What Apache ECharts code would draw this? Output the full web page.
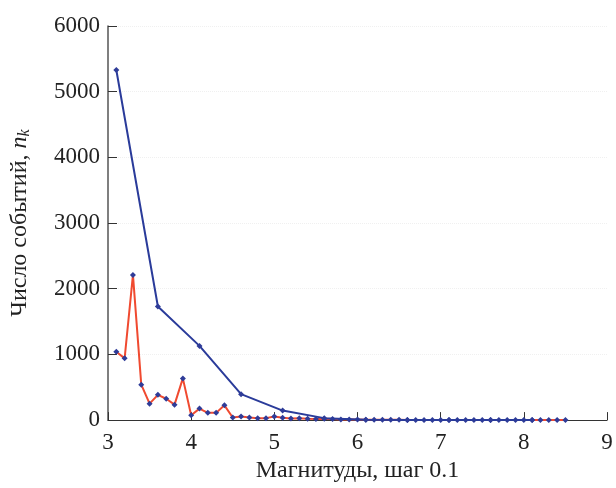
<!DOCTYPE html>
<html><head><meta charset="utf-8">
<script src="https://cdn.jsdelivr.net/npm/echarts@6/dist/echarts.min.js"></script>
<style>html,body{margin:0;padding:0;background:#fff}#c{width:616px;height:488px}</style>
</head><body><div id="c"></div>
<script>
var xTicks = [3, 4, 5, 6, 7, 8, 9];
var yTicks = [0, 1000, 2000, 3000, 4000, 5000, 6000];
var blueX = [3.1, 3.6, 4.1, 4.6, 5.1, 5.6, 6.1, 6.6, 7.1, 7.6, 8.1];
var blueY = [5330, 1730, 1130, 395, 145, 30, 5, 2, 1, 0, 0];
var redX = [3.1,3.2,3.3,3.4,3.5,3.6,3.7,3.8,3.9,4.0,4.1,4.2,4.3,4.4,4.5,4.6,4.7,4.8,4.9,5.0,
            5.1,5.2,5.3,5.4,5.5,5.6,5.7,5.8,5.9,6.0,6.1,6.2,6.3,6.4,6.5,6.6,6.7,6.8,6.9,7.0,
            7.1,7.2,7.3,7.4,7.5,7.6,7.7,7.8,7.9,8.0,8.1,8.2,8.3,8.4,8.5];
var redY = [1040,940,2210,540,250,385,325,235,635,75,175,110,110,225,40,55,40,30,30,55,
            35,25,30,20,15,20,15,10,10,8,6,5,5,4,4,3,3,3,2,2,
            2,2,1,1,1,1,1,1,1,1,0,0,0,0,0];
function pairs(xs, ys){ return xs.map(function(x,i){return [x, ys[i]];}); }
var serif = '"Liberation Serif", "DejaVu Serif", serif';
var chart = echarts.init(document.getElementById('c'));
chart.setOption({
  animation: false,
  grid: {left: 108, right: 9, top: 26, bottom: 62},
  xAxis: {
    type: 'value', min: xTicks[0], max: xTicks[xTicks.length-1], interval: 1,
    name: 'Магнитуды, шаг 0.1', nameLocation: 'middle', nameGap: 32,
    nameTextStyle: {fontFamily: serif, fontSize: 24, color: '#222'},
    axisLine: {lineStyle: {color: '#333', width: 1.2}},
    axisTick: {inside: true, length: 8, lineStyle: {color: '#333'}},
    axisLabel: {fontFamily: serif, fontSize: 23, color: '#222', margin: 11,
                formatter: function(v){ return String(v); }},
    splitLine: {show: false}
  },
  yAxis: {
    type: 'value', min: yTicks[0], max: yTicks[yTicks.length-1], interval: 1000,
    name: '{a|Число событий, }{n|n}{k|k}', nameLocation: 'middle', nameGap: 75,
    nameTextStyle: {
      rich: {
        a: {fontFamily: serif, fontSize: 24, color: '#222'},
        n: {fontFamily: serif, fontSize: 24, color: '#222', fontStyle: 'italic'},
        k: {fontFamily: serif, fontSize: 16, color: '#222', fontStyle: 'italic', verticalAlign: 'bottom', padding: [10,0,0,0]}
      }
    },
    axisLine: {show: true, lineStyle: {color: '#555', width: 1.5}},
    axisTick: {show: true, inside: true, length: 9, lineStyle: {color: '#333'}},
    axisLabel: {fontFamily: serif, fontSize: 23, color: '#222', margin: 8,
                formatter: function(v){ return String(v); }},
    splitLine: {show: true, lineStyle: {color: '#f0f0f0', type: 'dotted'}}
  },
  series: [
    {type: 'line', data: pairs(redX, redY), symbol: 'diamond', symbolSize: 6,
     lineStyle: {color: '#f04a30', width: 2}, itemStyle: {color: '#2f3c98'}, z: 3},
    {type: 'line', data: pairs(blueX, blueY), symbol: 'diamond', symbolSize: 6,
     lineStyle: {color: '#2a3b9a', width: 2}, itemStyle: {color: '#2f3c98'}, z: 4}
  ]
});
</script></body></html>
